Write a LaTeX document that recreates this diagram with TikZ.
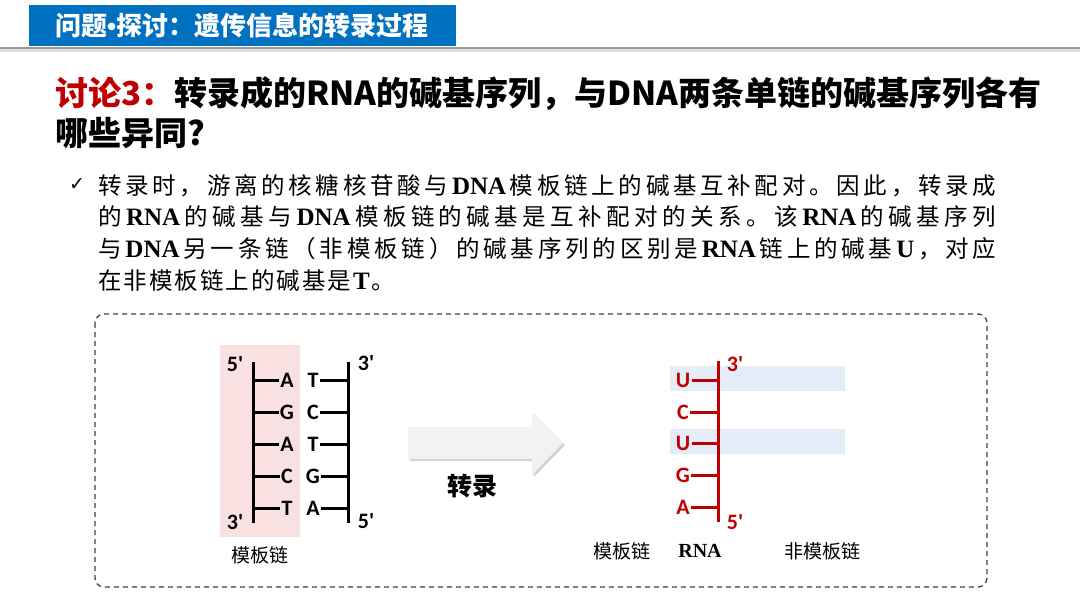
\documentclass[tikz,border=0pt]{standalone}
\usepackage{fontspec}
\setmainfont{Liberation Serif}
\newfontfamily\cjk{Noto Sans CJK SC}
\newfontfamily\calib{Carlito}[Ligatures=TeXOff]
\newfontfamily\dejavu{DejaVu Sans}
\newfontfamily\libsans{Liberation Sans}
\usetikzlibrary{shadows}
\definecolor{titleblue}{HTML}{0070C0}
\definecolor{darkred}{HTML}{C00000}
\definecolor{pinkbg}{HTML}{F9E1E1}
\definecolor{bandblue}{HTML}{E4ECF7}
\definecolor{arrowgray}{HTML}{F2F2F2}
\definecolor{dashgray}{HTML}{404040}
\makeatletter
\newcommand\spreadit[2]{\@tfor\sp@tok:=#2\do{{\sp@tok}\hskip#1\relax}\unskip}
\makeatother
\newcommand\lat{\rmfamily\bfseries\fontsize{25}{25}\selectfont}
\tikzset{
  bodyline/.style={anchor=base west, inner sep=0pt},
  basel/.style={font=\calib\bfseries\fontsize{22}{22}\selectfont, inner sep=1.2pt},
  endl/.style={font=\calib\bfseries\fontsize{22}{22}\selectfont, inner sep=0pt},
  strand/.style={line width=3pt},
  rstrand/.style={line width=3pt, draw=darkred},
  caption/.style={font=\cjk\fontsize{19}{19}\selectfont, inner sep=0pt},
}
\begin{document}
\begin{tikzpicture}[x=1pt,y=-1pt]
\useasboundingbox (0,0) rectangle (1080,608);
% title bar
\draw[line width=3pt, black!12] (0,50) -- (1080,50);
\draw[line width=2pt, black!40] (0,47.5) -- (1080,47.5);
\fill[titleblue] (29,5) rectangle (456,46);
\node[anchor=base west, inner sep=0pt, text=white] (title) at (55,35)
  {\cjk\bfseries\fontsize{26}{26}\selectfont 问题{\libsans\bfseries •}探讨：遗传信息的转录过程};
% heading
\node[anchor=base west, inner sep=0pt] (h1) at (55,105)
  {\cjk\bfseries\fontsize{33}{33}\selectfont\textcolor{darkred}{讨论3：}转录成的RNA的碱基序列，与DNA两条单链的碱基序列各有};
\node[anchor=base west, inner sep=0pt] (h2) at (55,145)
  {\cjk\bfseries\fontsize{33}{33}\selectfont 哪些异同?};
% body text
\node[inner sep=0pt] (check) at (77,185) {\dejavu\fontsize{19}{19}\selectfont ✓};
\node[bodyline] (b1) at (98,194) {\makebox[898pt][s]{\cjk\fontsize{23.5}{23.5}\selectfont\spreadit{0pt plus 1fil}{转录时，游离的核糖核苷酸与{\lat DNA}模板链上的碱基互补配对。因此，转录成}}};
\node[bodyline] (b2) at (98,225) {\makebox[898pt][s]{\cjk\fontsize{23.5}{23.5}\selectfont\spreadit{0pt plus 1fil}{的{\lat RNA}的碱基与{\lat DNA}模板链的碱基是互补配对的关系。该{\lat RNA}的碱基序列}}};
\node[bodyline] (b3) at (98,257) {\makebox[898pt][s]{\cjk\fontsize{23.5}{23.5}\selectfont\spreadit{0pt plus 1fil}{与{\lat DNA}另一条链（非模板链）的碱基序列的区别是{\lat RNA}链上的碱基{\lat U}，对应}}};
\node[bodyline] (b4) at (98,289) {\cjk\fontsize{23.5}{23.5}\selectfont\spreadit{2pt}{在非模板链上的碱基是{\lat T}。}};
% dashed frame
\draw[dashgray, line width=1.3pt, dash pattern=on 5pt off 4pt, rounded corners=9pt] (95,314) rectangle (987,587);
% left DNA
\fill[pinkbg] (220,345) rectangle (300,537);
\coordinate (LT) at (253,362); \coordinate (LB) at (253,523);
\coordinate (RT) at (348,362); \coordinate (RB) at (348,523);
\draw[strand] (LT) -- (LB);
\draw[strand] (RT) -- (RB);
\foreach \i/\y/\l/\r in {1/380/A/T,2/412/G/C,3/444/A/T,4/476/C/G,5/508/T/A}{
  \node[basel] (tl\i) at (287,\y) {\l};
  \node[basel] (nt\i) at (313,\y) {\r};
  \coordinate (lb\i) at (253,\y);
  \coordinate (rb\i) at (348,\y);
  \draw[strand] (lb\i) -- (tl\i.west);
  \draw[strand] (nt\i.east) -- (rb\i);
}
\node[endl] (l5) at (235,364) {5'};
\node[endl] (l3) at (235,522) {3'};
\node[endl] (r3) at (366,363) {3'};
\node[endl] (r5) at (366,521) {5'};
\node[caption] (capL) at (260,555) {模板链};
% arrow
\path[fill=arrowgray, drop shadow={shadow xshift=2pt, shadow yshift=-2pt, opacity=0.35}]
  (408,427) -- (532,427) -- (532,412) -- (563,443) -- (532,475) -- (532,459) -- (408,459) -- cycle;
\node[inner sep=0pt] (tr) at (472,486) {\cjk\bfseries\fontsize{25}{25}\selectfont 转录};
% RNA
\fill[bandblue] (670,366) rectangle (845,391);
\fill[bandblue] (670,429) rectangle (845,454);
\coordinate (NT) at (718,361); \coordinate (NB) at (718,522);
\draw[rstrand] (NT) -- (NB);
\foreach \i/\y/\l in {1/380/U,2/412/C,3/443/U,4/475/G,5/507/A}{
  \node[basel, text=darkred] (rn\i) at (683,\y) {\l};
  \coordinate (nb\i) at (718,\y);
  \draw[rstrand] (rn\i.east) -- (nb\i);
}
\node[endl, text=darkred] (n3) at (735,364) {3'};
\node[endl, text=darkred] (n5) at (735,522) {5'};
\node[caption] (capT) at (622,551) {模板链};
\node[inner sep=0pt] (capR) at (700,551) {\bfseries\fontsize{20}{20}\selectfont RNA};
\node[caption] (capN) at (822,551) {非模板链};
\end{tikzpicture}
\end{document}
